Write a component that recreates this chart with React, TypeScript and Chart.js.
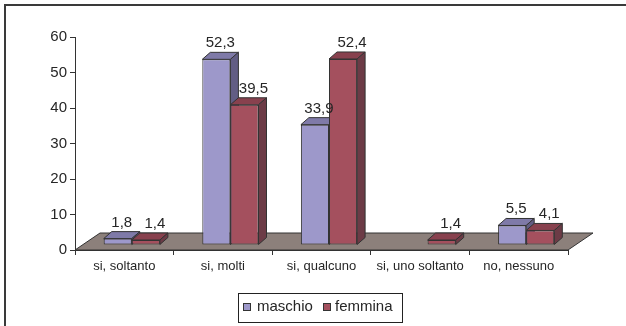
import { useEffect, useRef } from "react";
import { Chart, registerables } from "chart.js";

Chart.register(...registerables);

const categories = ["si, soltanto", "si, molti", "si, qualcuno", "si, uno soltanto", "no, nessuno"];
const seriesNames = ["maschio", "femmina"];
const maschio: (number | null)[] = [1.8, 52.3, 33.9, null, 5.5];
const femmina: (number | null)[] = [1.4, 39.5, 52.4, 1.4, 4.1];
const yMin = 0;
const yMax = 60;
const yStep = 10;

const FONT = "'Liberation Sans', Arial, sans-serif";
const INK = "#262626";
const EDGE = "#333333";

// face colours: front, top, side
const PALETTE = [
  { front: "#9d98ca", top: "#7f7aa8", side: "#625d84" },
  { front: "#a4505e", top: "#88414e", side: "#6c3b46" },
];

// 3D projection offsets (pixels)
const BAR_DX = 8;
const BAR_DY = 7;
const FLOOR_DX = 25;
const FLOOR_DY = 17;
const SHIFT_X = 7.5;
const SHIFT_Y = -5;
// horizontal nudge of the value labels, per series
const LABEL_DX = [4, 9];

const fmt = (v: number) => v.toFixed(1).replace(".", ",");

const poly = (ctx: CanvasRenderingContext2D, pts: number[][], fill: string) => {
  ctx.beginPath();
  ctx.moveTo(pts[0][0], pts[0][1]);
  for (let i = 1; i < pts.length; i++) ctx.lineTo(pts[i][0], pts[i][1]);
  ctx.closePath();
  ctx.fillStyle = fill;
  ctx.fill();
  ctx.strokeStyle = EDGE;
  ctx.lineWidth = 1;
  ctx.stroke();
};

const boxes3d = {
  id: "boxes3d",
  beforeDatasetsDraw(chart: any) {
    const { ctx } = chart;
    const xs = chart.scales.x;
    const y0 = chart.scales.y.getPixelForValue(0);
    ctx.save();
    poly(
      ctx,
      [
        [xs.left, y0],
        [xs.right, y0],
        [xs.right + FLOOR_DX, y0 - FLOOR_DY],
        [xs.left + FLOOR_DX, y0 - FLOOR_DY],
      ],
      "#8c807b"
    );
    ctx.restore();
  },
  beforeDatasetDraw() {
    // bars are painted together below, left bar of each pair first
    return false;
  },
  afterDatasetsDraw(chart: any) {
    const { ctx } = chart;
    ctx.save();
    ctx.translate(SHIFT_X, SHIFT_Y);
    chart.data.datasets.forEach((ds: any, di: number) => {
      const meta = chart.getDatasetMeta(di);
      const pal = PALETTE[di];
      meta.data.forEach((bar: any, i: number) => {
        const v = ds.data[i];
        if (v == null) return;
        bar.draw(ctx);
        const { x, y, base, width } = bar.getProps(["x", "y", "base", "width"], true);
        const l = x - width / 2;
        const r = x + width / 2;
        poly(ctx, [[l, y], [r, y], [r + BAR_DX, y - BAR_DY], [l + BAR_DX, y - BAR_DY]], pal.top);
        poly(ctx, [[r, y], [r + BAR_DX, y - BAR_DY], [r + BAR_DX, base - BAR_DY], [r, base]], pal.side);
      });
    });
    // value labels
    ctx.fillStyle = INK;
    ctx.font = `15px ${FONT}`;
    ctx.textAlign = "center";
    ctx.textBaseline = "alphabetic";
    chart.data.datasets.forEach((ds: any, di: number) => {
      const meta = chart.getDatasetMeta(di);
      meta.data.forEach((bar: any, i: number) => {
        const v = ds.data[i];
        if (v == null) return;
        const { x, y } = bar.getProps(["x", "y"], true);
        ctx.fillText(fmt(v), x + LABEL_DX[di], y - 12);
      });
    });
    ctx.restore();
  },
  afterDraw(chart: any) {
    const { ctx } = chart;
    ctx.save();
    // outer frame
    ctx.strokeStyle = "#3a3a3a";
    ctx.lineWidth = 2;
    ctx.beginPath();
    ctx.moveTo(5, chart.height);
    ctx.lineTo(5, 5);
    ctx.lineTo(chart.width, 5);
    ctx.stroke();

    // legend
    const lx = 238.5, ly = 293.5, lw = 164, lh = 29;
    ctx.fillStyle = "#ffffff";
    ctx.fillRect(lx, ly, lw, lh);
    ctx.strokeStyle = "#222";
    ctx.lineWidth = 1;
    ctx.strokeRect(lx, ly, lw, lh);
    ctx.font = `15px ${FONT}`;
    ctx.textBaseline = "middle";
    ctx.textAlign = "left";
    const cy = 307;
    const items = [
      { sq: 243.5, tx: 257 },
      { sq: 323.5, tx: 335 },
    ];
    items.forEach((it, di) => {
      ctx.fillStyle = PALETTE[di].front;
      ctx.fillRect(it.sq, cy - 3.5, 7, 7);
      ctx.strokeStyle = EDGE;
      ctx.strokeRect(it.sq, cy - 3.5, 7, 7);
      ctx.fillStyle = INK;
      ctx.fillText(seriesNames[di], it.tx, cy);
    });
    ctx.restore();
  },
};

export default function App() {
  const ref = useRef<HTMLCanvasElement | null>(null);

  useEffect(() => {
    if (!ref.current) return;
    const chart = new Chart(ref.current, {
      type: "bar",
      data: {
        labels: categories,
        datasets: [
          {
            label: seriesNames[0],
            data: maschio,
            backgroundColor: PALETTE[0].front,
            borderColor: EDGE,
            borderWidth: 1,
            borderSkipped: false,
          },
          {
            label: seriesNames[1],
            data: femmina,
            backgroundColor: PALETTE[1].front,
            borderColor: EDGE,
            borderWidth: 1,
            borderSkipped: false,
          },
        ] as any,
      },
      options: {
        responsive: false,
        animation: false,
        devicePixelRatio: 1,
        layout: { padding: { top: 37, right: 58, left: 0, bottom: 0 } },
        datasets: { bar: { categoryPercentage: 0.57, barPercentage: 1 } },
        plugins: { legend: { display: false }, tooltip: { enabled: false } },
        scales: {
          x: {
            offset: true,
            grid: { drawOnChartArea: false, offset: true, tickLength: 5, color: EDGE, lineWidth: 1 },
            border: { display: true, color: EDGE },
            ticks: { font: { family: FONT, size: 13 }, color: INK, padding: 4, maxRotation: 0, autoSkip: false },
            afterFit: (s: any) => {
              s.height = 76;
            },
          },
          y: {
            min: yMin,
            max: yMax,
            grid: { drawOnChartArea: false, tickLength: 5, color: EDGE, lineWidth: 1 },
            border: { display: true, color: EDGE },
            ticks: { stepSize: yStep, font: { family: FONT, size: 15 }, color: INK, padding: 3 },
            afterFit: (s: any) => {
              s.width = 75;
            },
          },
        },
      } as any,
      plugins: [boxes3d],
    });
    return () => chart.destroy();
  }, []);

  return (
    <div style={{ position: "absolute", left: 0, top: 0, width: 626, height: 326, background: "#fff" }}>
      <canvas ref={ref} width={626} height={326} />
    </div>
  );
}
